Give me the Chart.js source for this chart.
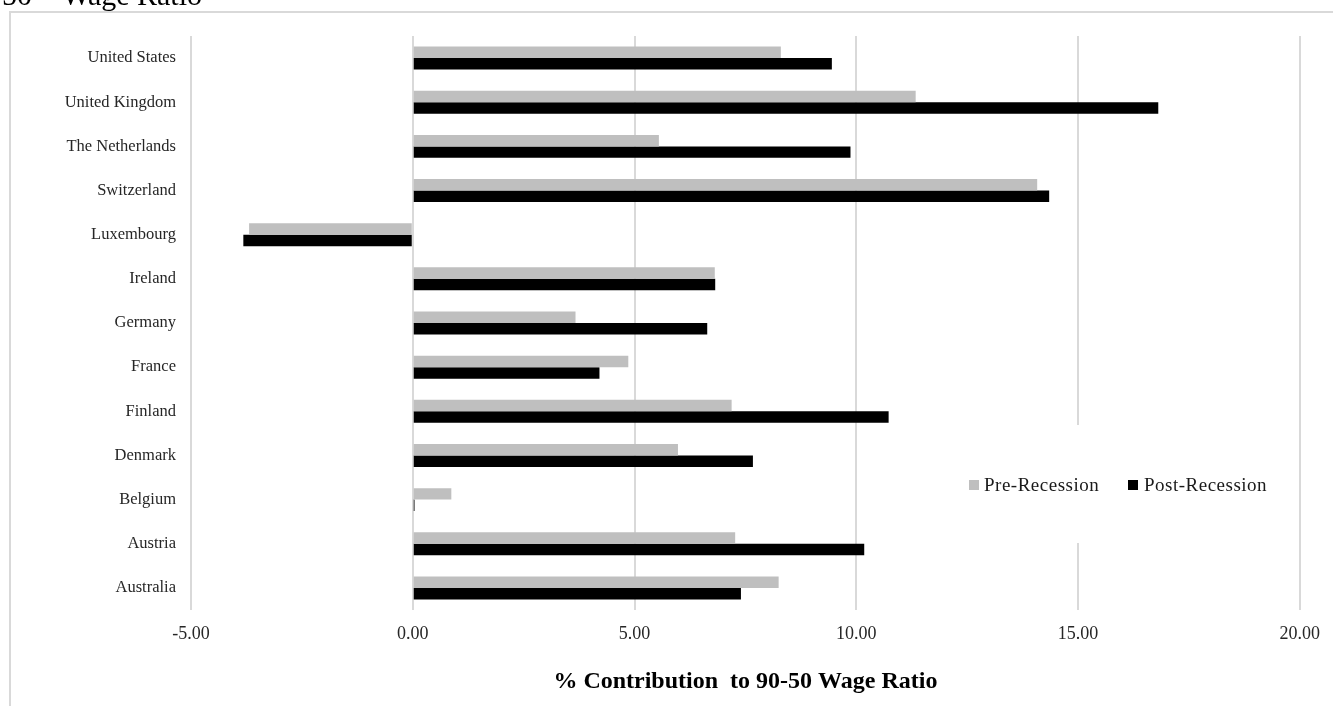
<!DOCTYPE html>
<html>
<head>
<meta charset="utf-8">
<script src="https://cdn.jsdelivr.net/npm/chart.js@4/dist/chart.umd.min.js"></script>
<style>
  html, body { margin: 0; padding: 0; background: #ffffff; }
  #wrap { position: relative; width: 1333px; height: 706px; overflow: hidden; }
</style>
</head>
<body>
<div id="wrap"><canvas id="c"></canvas></div>
<script>
const countries = ['United States','United Kingdom','The Netherlands','Switzerland','Luxembourg','Ireland','Germany','France','Finland','Denmark','Belgium','Austria','Australia'];
const preRecession  = [8.30, 11.34, 5.55, 14.08, -3.69, 6.81, 3.67, 4.86, 7.19, 5.98, 0.87, 7.27, 8.25];
const postRecession = [9.45, 16.81, 9.87, 14.35, -3.82, 6.82, 6.64, 4.21, 10.73, 7.67, 0.04, 10.18, 7.40];
const seriesNames = ['Pre-Recession', 'Post-Recession'];
const xTickMin = -5, xTickMax = 20, xTickStep = 5;
const axisTitle = '% Contribution  to 90-50 Wage Ratio';
const chartTitleFragment = '50 \u2013 Wage Ratio';

const FONT = "'Liberation Serif', 'DejaVu Serif', serif";
const colors = ['#bfbfbf', '#000000'];

const framePlugin = {
  id: 'frame',
  beforeDraw(chart) {
    const ctx = chart.ctx;
    ctx.save();
    ctx.fillStyle = '#ffffff';
    ctx.fillRect(0, 0, chart.width, chart.height);
    ctx.strokeStyle = '#d9d9d9';
    ctx.lineWidth = 2;
    ctx.strokeRect(10, 12, 1400, 800);
    ctx.fillStyle = '#000000';
    ctx.font = '30px ' + FONT;
    ctx.textBaseline = 'alphabetic';
    ctx.textAlign = 'left';
    ctx.fillText(chartTitleFragment, 2, 5);
    ctx.restore();
  },
  afterDraw(chart) {
    const ctx = chart.ctx;
    ctx.save();
    ctx.fillStyle = '#ffffff';
    ctx.fillRect(935, 425, 350, 118);
    const cy = 485;
    ctx.font = '19px ' + FONT;
    ctx.textBaseline = 'middle';
    ctx.textAlign = 'left';
    try { ctx.letterSpacing = '0.5px'; } catch (e) {}
    const items = [
      { x: 969, tx: 984 },
      { x: 1128, tx: 1144 }
    ];
    items.forEach((it, i) => {
      ctx.fillStyle = colors[i];
      ctx.fillRect(it.x, cy - 5, 10, 10);
      ctx.fillStyle = '#1a1a1a';
      ctx.fillText(seriesNames[i], it.tx, cy + 1);
    });
    ctx.restore();
  }
};

new Chart(document.getElementById('c'), {
  type: 'bar',
  data: {
    labels: countries,
    datasets: [
      { label: seriesNames[0], data: preRecession, backgroundColor: colors[0], borderWidth: 0 },
      { label: seriesNames[1], data: postRecession, backgroundColor: colors[1], borderWidth: 0 }
    ]
  },
  options: {
    indexAxis: 'y',
    responsive: true,
    maintainAspectRatio: false,
    animation: false,
    devicePixelRatio: 1,
    categoryPercentage: 0.52,
    barPercentage: 1.0,
    layout: { padding: { top: 36, right: 31, left: 0, bottom: 0 } },
    plugins: { legend: { display: false }, tooltip: { enabled: false }, title: { display: false } },
    scales: {
      x: {
        type: 'linear',
        min: xTickMin,
        max: xTickMax,
        border: { display: false },
        grid: { color: '#d9d9d9', lineWidth: 2, drawTicks: false },
        ticks: {
          stepSize: xTickStep,
          padding: 13,
          color: '#262626',
          font: { family: FONT, size: 18 },
          callback: v => Number(v).toFixed(2)
        },
        title: {
          display: true,
          text: axisTitle,
          color: '#000000',
          font: { family: FONT, size: 24, weight: 'bold' },
          padding: { top: 0, bottom: 10 }
        },
        afterFit(scale) { scale.height = 96; }
      },
      y: {
        border: { display: false },
        grid: { display: false, drawTicks: false },
        ticks: {
          padding: 15,
          color: '#262626',
          font: { family: FONT, size: 16.5 }
        },
        afterFit(scale) { scale.width = 191; }
      }
    }
  },
  plugins: [framePlugin]
});
</script>
</body>
</html>
